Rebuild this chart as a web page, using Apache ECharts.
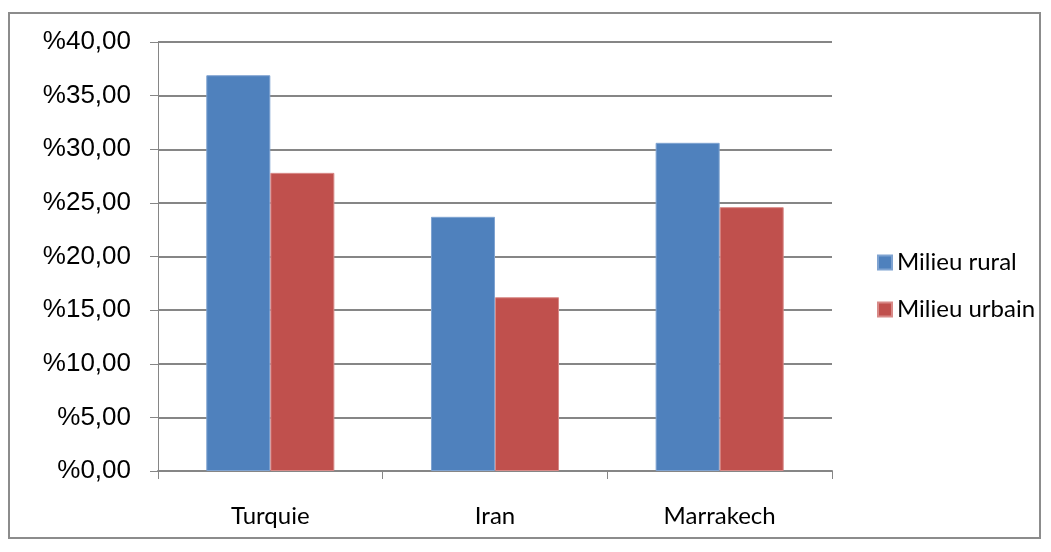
<!DOCTYPE html>
<html>
<head>
<meta charset="utf-8">
<style>
  html, body { margin: 0; padding: 0; background: #fff; }
  #frame { position: absolute; left: 8px; top: 12px; width: 1033px; height: 527px; border: 2px solid #8c8c8c; box-sizing: border-box; }
  #chart { position: absolute; left: 0; top: 0; width: 1051px; height: 552px; }
</style>
<script src="https://cdn.jsdelivr.net/npm/echarts@6/dist/echarts.min.js"></script>
</head>
<body>
<div id="frame"></div>
<div id="chart"></div>
<script>
// Categories and percentages per setting
const categories = ['Turquie', 'Iran', 'Marrakech'];
const rural = [36.9, 23.7, 30.6];
const urbain = [27.8, 16.2, 24.6];
const seriesNames = ['Milieu rural', 'Milieu urbain'];

const chart = echarts.init(document.getElementById('chart'), null, { renderer: 'canvas' });

const fmt = v => '%' + v.toFixed(2).replace('.', ',');

chart.setOption({
  animation: false,
  grid: { left: 158, right: 219, top: 42, bottom: 81, containLabel: false },
  legend: {
    orient: 'vertical',
    left: 872,
    top: 245,
    itemWidth: 14,
    itemHeight: 14,
    itemGap: 22,
    icon: 'rect',
    textStyle: {
      fontFamily: 'Lato, "Open Sans", sans-serif',
      fontSize: 24,
      lineHeight: 25,
      color: '#000'
    },
    data: seriesNames
  },
  xAxis: {
    type: 'category',
    data: categories,
    axisLine: { lineStyle: { color: '#868686', width: 2 } },
    axisTick: { show: true, length: 8, alignWithLabel: false, lineStyle: { color: '#868686', width: 1 } },
    axisLabel: { margin: 33, fontFamily: 'Lato, "Open Sans", sans-serif', fontSize: 24, color: '#000' }
  },
  yAxis: {
    type: 'value',
    min: 0,
    max: 40,
    interval: 5,
    axisLine: { show: true, lineStyle: { color: '#868686', width: 1 } },
    axisTick: { show: true, length: 8, lineStyle: { color: '#868686', width: 1 } },
    splitLine: { lineStyle: { color: '#868686', width: 2 } },
    axisLabel: {
      margin: 27,
      fontFamily: '"Liberation Sans", Arial, sans-serif',
      fontSize: 26,
      color: '#000',
      formatter: fmt
    }
  },
  series: [
    {
      name: seriesNames[0],
      type: 'bar',
      data: rural,
      barGap: '0%',
      barCategoryGap: '43%',
      itemStyle: { color: '#4F81BD', borderColor: '#7fa3d1', borderWidth: 1 }
    },
    {
      name: seriesNames[1],
      type: 'bar',
      data: urbain,
      itemStyle: { color: '#C0504D', borderColor: '#d88a88', borderWidth: 1 }
    }
  ]
});
</script>
</body>
</html>
